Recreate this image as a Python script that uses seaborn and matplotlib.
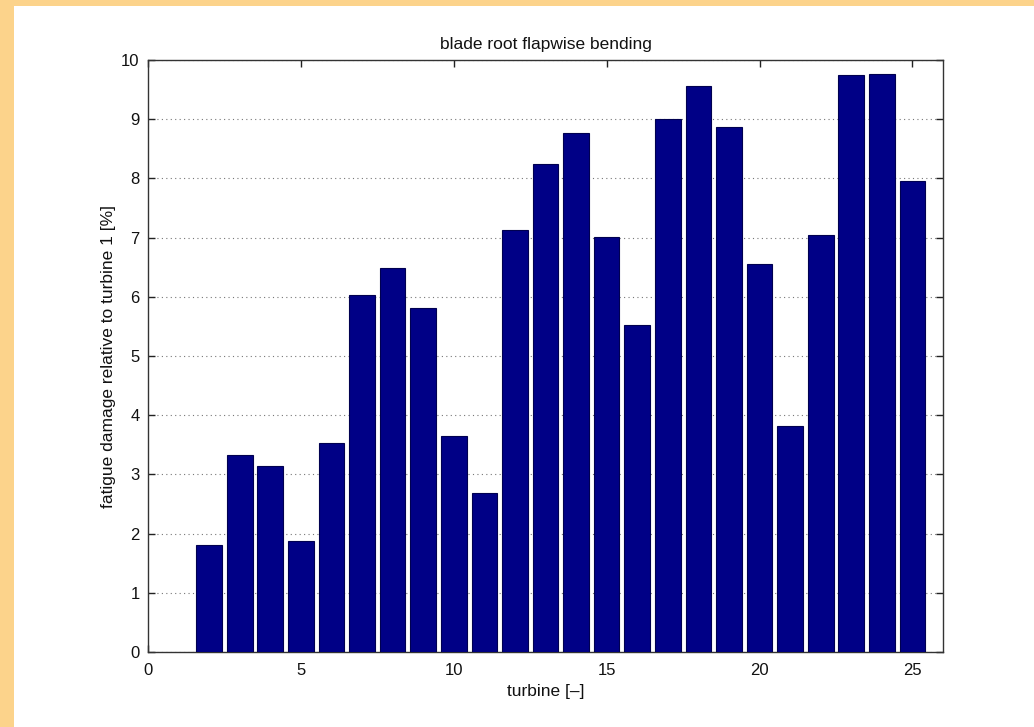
import matplotlib
matplotlib.use("Agg")
import matplotlib.pyplot as plt
from matplotlib.patches import Rectangle
import seaborn as sns
import pandas as pd

# Turbine index and fatigue damage relative to turbine 1 [%]
turbines = list(range(2, 26))
damage = [1.81, 3.33, 3.14, 1.88, 3.53, 6.03, 6.49, 5.81, 3.65, 2.69,
          7.13, 8.24, 8.77, 7.01, 5.52, 9.00, 9.56, 8.87, 6.55, 3.82,
          7.04, 9.75, 9.76, 7.96]
x_ticks = [0, 5, 10, 15, 20, 25]
y_ticks = list(range(0, 11))

sns.set_theme(style="white")
plt.rcParams["font.family"] = ["Liberation Sans", "DejaVu Sans"]

df = pd.DataFrame({"turbine": turbines, "damage": damage})

fig = plt.figure(figsize=(10.34, 7.27), dpi=100, facecolor="white")

# peach frame along the top and left edges
W, H = 1034, 727
frame = "#FCD38B"
fig.patches.append(Rectangle((0, 0), 14 / W, 1, transform=fig.transFigure,
                             facecolor=frame, edgecolor="none", zorder=0))
fig.patches.append(Rectangle((0, 1 - 6 / H), 1, 6 / H, transform=fig.transFigure,
                             facecolor=frame, edgecolor="none", zorder=0))

ax = fig.add_axes([148 / W, 75 / H, (943 - 148) / W, (652 - 60) / H])

sns.barplot(data=df, x="turbine", y="damage", native_scale=True, width=0.84,
            color="#000086", edgecolor="#000050", linewidth=0.8,
            saturation=1, ax=ax, zorder=3)

ax.set_xlim(0, 26)
ax.set_ylim(0, 10)
ax.set_xticks(x_ticks)
ax.set_yticks(y_ticks)
ax.set_xticklabels([str(t) for t in x_ticks])
ax.set_yticklabels([str(t) for t in y_ticks])

ax.yaxis.grid(True, linestyle=(0, (1, 3)), color="#777777", linewidth=0.8, zorder=0)
ax.xaxis.grid(False)
ax.set_axisbelow(True)

for s in ax.spines.values():
    s.set_color("#333333")
    s.set_linewidth(1.0)
    s.set_visible(True)

ax.tick_params(direction="in", length=5, width=1, color="#222222",
               top=True, right=True, bottom=True, left=True,
               labelsize=12, labelcolor="#111111", pad=6)
ax.tick_params(axis="x", pad=8)

ax.set_title("blade root flapwise bending", fontsize=12.5, color="#111111", pad=8)
ax.set_xlabel("turbine [\u2013]", fontsize=12.5, color="#111111", labelpad=4)
ax.set_ylabel("fatigue damage relative to turbine 1 [%]", fontsize=12.5,
              color="#111111", labelpad=4)

fig.savefig("out.png", dpi=100, facecolor="white")
